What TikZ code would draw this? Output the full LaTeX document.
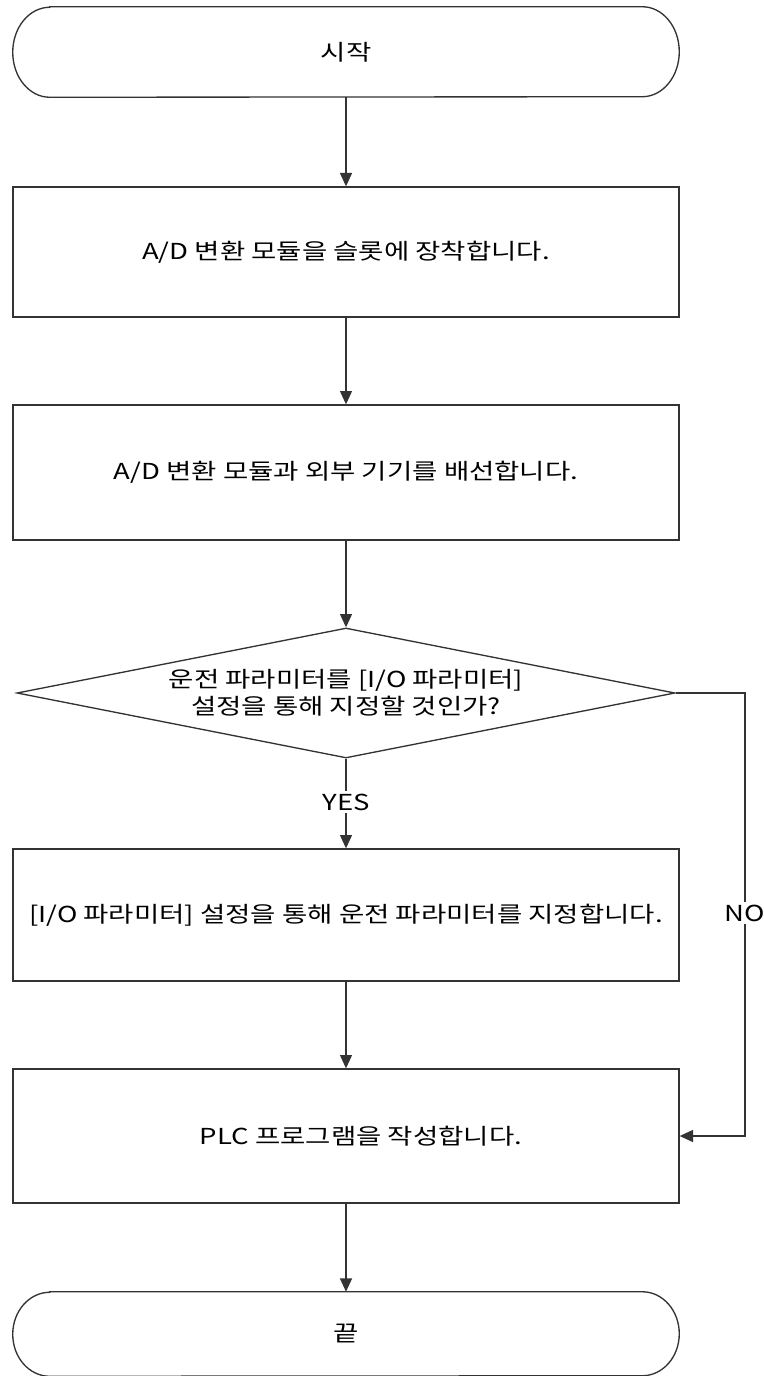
\documentclass[tikz,border=0pt]{standalone}
\usepackage{fontspec}
\newfontfamily\kr[FakeStretch=1.25]{Noto Sans CJK KR}
\usetikzlibrary{shapes.geometric,arrows.meta}
\begin{document}
\begin{tikzpicture}[x=0.75pt,y=-0.75pt,
  every node/.style={font=\kr\fontsize{16.5pt}{20.25pt}\selectfont, text=black},
  box/.style={rectangle, draw=black!80, line width=1pt, minimum width=499.5pt, inner sep=0pt},
  term/.style={rectangle, minimum width=499.5pt, inner sep=0pt},
  decision/.style={diamond, draw=black!80, line width=1pt, minimum width=493.5pt, minimum height=97.5pt, inner sep=0pt, shape aspect=5, align=center},
  line/.style={draw=black!80, line width=1pt},
  arr/.style={line, -{Triangle[width=9pt,length=10pt]}}]
\useasboundingbox (0,0) rectangle (763,1376);

% start terminator
\node[term, minimum height=67.5pt] (start) at (346,52) {시작};
\draw[line] ([xshift=27.75pt]start.north west) -- ([xshift=-27.75pt]start.north east)
  arc[start angle=90, end angle=-90, x radius=27.75pt, y radius=33.75pt]
  -- ([xshift=27.75pt]start.south west)
  arc[start angle=270, end angle=90, x radius=27.75pt, y radius=33.75pt] -- cycle;

\node[box, minimum height=97.5pt] (b1) at (346,252) {A/D 변환 모듈을 슬롯에 장착합니다.};
\node[box, minimum height=101.25pt] (b2) at (346,472.5) {A/D 변환 모듈과 외부 기기를 배선합니다.};
\node[decision] (d) at (346,693) {운전 파라미터를 [I/O 파라미터]\\설정을 통해 지정할 것인가?};
\node[box, minimum height=99pt] (b3) at (346,915) {[I/O 파라미터] 설정을 통해 운전 파라미터를 지정합니다.};
\node[box, minimum height=100.5pt] (b4) at (346,1136) {\hspace*{22.5pt}PLC 프로그램을 작성합니다.};

% end terminator
\node[term, minimum height=63pt] (end) at (346,1334) {끝};
\draw[line] ([xshift=27.75pt]end.north west) -- ([xshift=-27.75pt]end.north east)
  arc[start angle=90, end angle=-90, x radius=27.75pt, y radius=31.5pt]
  -- ([xshift=27.75pt]end.south west)
  arc[start angle=270, end angle=90, x radius=27.75pt, y radius=31.5pt] -- cycle;

\node[inner sep=2pt] (yes) at (346,802) {YES};
\node[inner sep=2pt] (no) at (745,913) {NO};
\coordinate (c1) at (745,693);

\draw[arr] (start.south) -- (b1.north);
\draw[arr] (b1.south) -- (b2.north);
\draw[arr] (b2.south) -- (d.north);
\draw[line] (d.south) -- (yes.north);
\draw[arr] (yes.south) -- (b3.north);
\draw[arr] (b3.south) -- (b4.north);
\draw[arr] (b4.south) -- (end.north);
\draw[line] (d.east) -- (c1) -- (no.north);
\draw[arr] (no.south) |- (b4.east);
\end{tikzpicture}
\end{document}
